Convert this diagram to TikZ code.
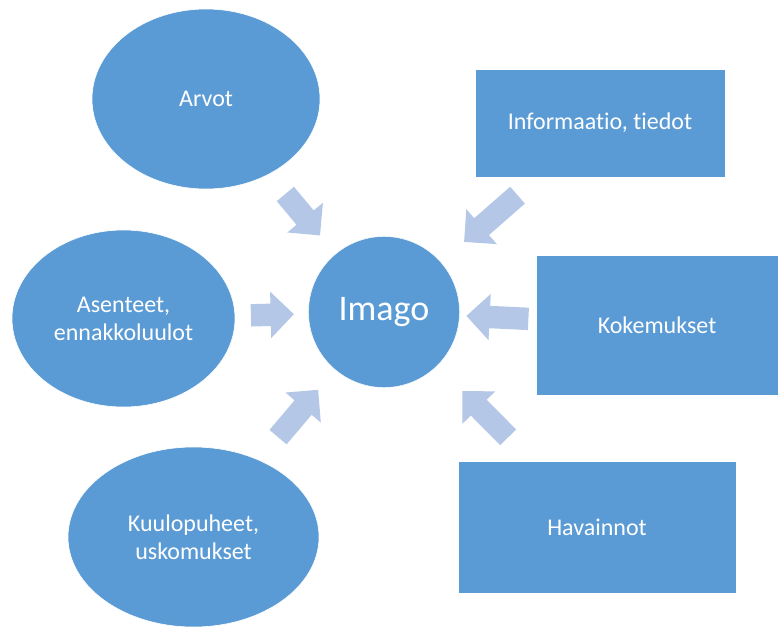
\documentclass[tikz,border=0pt]{standalone}
\usepackage{fontspec}
\setmainfont{Carlito}[Ligatures=NoCommon]
\usepackage{xcolor}
\usetikzlibrary{shapes.geometric, shapes.arrows, positioning, calc}
\definecolor{officeblue}{HTML}{5B9BD5}
\definecolor{paleblue}{HTML}{B4C7E7}
\tikzset{
  oval/.style = {
    ellipse, fill=officeblue, draw=white, line width=0.6pt,
    text=white, align=center, inner sep=0pt,
    font=\fontsize{24}{28}\selectfont
  },
  box/.style = {
    rectangle, fill=officeblue, draw=white, line width=0.6pt,
    text=white, align=center, inner sep=0pt,
    font=\fontsize{24}{28}\selectfont
  },
  fatarrow/.style = {
    single arrow, fill=paleblue, draw=none,
    inner xsep=0pt, inner ysep=11pt,
    minimum width=46pt, single arrow head extend=12pt,
    sloped, allow upside down
  }
}

\begin{document}
\begin{tikzpicture}[x=1pt, y=-1pt]
\useasboundingbox (0,0) rectangle (778,626);

%% ── Centre ───────────────────────────────────────────
\node[circle, fill=officeblue, draw=white, minimum size=151pt,
      inner sep=0pt, text=white, font=\fontsize{36}{43}\selectfont]
  (imago) at (384,312) {Imago};

%% ── Left: ovals ──────────────────────────────────────
\node[oval, minimum width=228pt, minimum height=180pt]
  (arvot) at (206,99) {Arvot};
\node[oval, minimum width=223pt, minimum height=177pt]
  (asenteet) at (123.5,318.5) {Asenteet,\\ennakkoluulot};
\node[oval, minimum width=251pt, minimum height=180pt]
  (kuulo) at (193.5,537) {Kuulopuheet,\\uskomukset};

%% ── Right: boxes ─────────────────────────────────────
\node[box, minimum width=250pt, minimum height=108pt]
  (info) at (600,123) {Informaatio, tiedot};
\node[box, minimum width=242pt, minimum height=140pt]
  (koke) at (657,325) {Kokemukset};
\node[box, minimum width=278pt, minimum height=132pt]
  (havain) at (597,527) {Havainnot};

%% ── Arrows ───────────────────────────────────────────
\path (arvot.center) -- node[fatarrow, pos=0.523, minimum height=54pt]
  (arvotarr) {} (imago.center);
\path (asenteet.center) -- node[fatarrow, pos=0.55, minimum height=43pt]
  (asenteetarr) {} (imago.center);
\path (kuulo.center) -- node[fatarrow, pos=0.53, minimum height=62pt]
  (kuuloarr) {} (imago.center);
\path (info.center) -- node[fatarrow, pos=0.486, minimum height=71pt]
  (infoarr) {} (imago.center);
\path (koke.center) -- node[fatarrow, pos=0.564, minimum height=62pt]
  (kokearr) {} (imago.center);
\path (havain.center) -- node[fatarrow, pos=0.506, minimum height=65pt]
  (havainarr) {} (imago.center);

\end{tikzpicture}
\end{document}
